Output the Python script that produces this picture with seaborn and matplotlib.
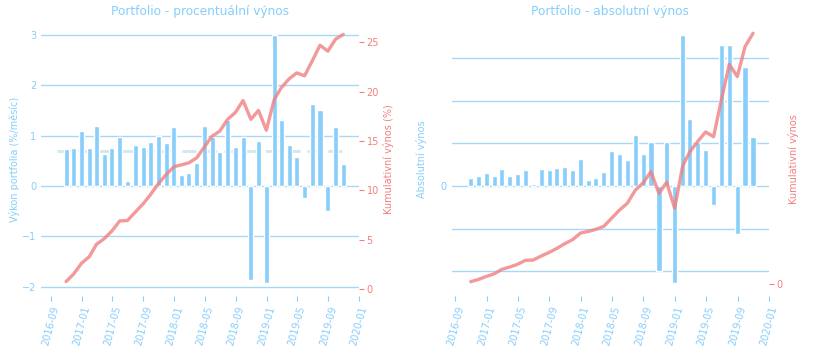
import numpy as np
import pandas as pd
import matplotlib
matplotlib.use("Agg")
import matplotlib.pyplot as plt
import matplotlib.dates as mdates
from matplotlib.ticker import MultipleLocator, FuncFormatter
import seaborn as sns

# ---------------- data ----------------
months = pd.date_range("2016-10-31", periods=37, freq="ME")

monthly_pct = [0.73, 0.75, 1.08, 0.75, 1.18, 0.63, 0.75, 0.97, 0.09, 0.81,
               0.77, 0.87, 0.99, 0.85, 1.16, 0.21, 0.25, 0.45, 1.18, 0.97,
               0.67, 1.30, 0.77, 0.97, -1.86, 0.90, -1.93, 3.00, 1.30, 0.81,
               0.57, -0.24, 1.62, 1.50, -0.50, 1.16, 0.43]

cumulative_pct = [0.78, 1.55, 2.63, 3.31, 4.55, 5.13, 5.90, 6.92, 6.95, 7.80,
                  8.64, 9.60, 10.70, 11.60, 12.40, 12.60, 12.80, 13.30, 14.40, 15.50,
                  16.00, 17.20, 17.90, 19.10, 17.20, 18.10, 16.10, 19.20, 20.40, 21.30,
                  21.90, 21.60, 23.10, 24.70, 24.10, 25.30, 25.80]

monthly_abs = [180, 230, 300, 230, 390, 230, 280, 370, 50, 390,
               370, 410, 440, 370, 630, 130, 180, 320, 810, 740,
               600, 1190, 740, 1020, -1990, 1020, -2270, 3530, 1560, 1020,
               840, -450, 3300, 3300, -1130, 2780, 1140]

cumulative_abs = [220, 430, 710, 960, 1360, 1580, 1830, 2200, 2230, 2600,
                  2940, 3310, 3750, 4120, 4740, 4890, 5080, 5360, 6100, 6870,
                  7490, 8700, 9410, 10430, 8420, 9440, 7030, 10960, 12290, 13250,
                  14120, 13680, 17090, 20400, 19260, 22040, 23280]

xtick_dates = pd.date_range("2016-09-01", "2020-01-01", freq="4MS")

df = pd.DataFrame({"date": months, "pct": monthly_pct, "cum_pct": cumulative_pct,
                   "abs": monthly_abs, "cum_abs": cumulative_abs})

# ---------------- style ----------------
sns.set_style("white")
plt.rcParams["font.family"] = ["DejaVu Sans"]

BLUE = "#87CEFA"
CORAL = "#F08080"
GRID = "#A6D8F7"
MEAN = "#D3E6EE"
FS_TICK = 7
FS_LABEL = 7
FS_TITLE = 8.7

fig = plt.figure(figsize=(8.17, 3.51), dpi=100)

H = 351.0
W = 817.0
top_px, bot_px = 22, 296


def make_axes(x0, x1):
    return fig.add_axes([x0 / W, (H - bot_px) / H, (x1 - x0) / W, (bot_px - top_px) / H])


def style_common(ax, ax2, title, ylab, ylab2):
    for a in (ax, ax2):
        for s in a.spines.values():
            s.set_visible(False)
    ax.set_title(title, color=BLUE, fontsize=FS_TITLE, pad=5)
    ax.set_ylabel(ylab, color=BLUE, fontsize=FS_LABEL)
    ax2.set_ylabel(ylab2, color=CORAL, fontsize=FS_LABEL)
    ax.yaxis.grid(True, color=GRID, linewidth=1)
    ax.xaxis.grid(False)
    ax2.grid(False)
    ax.set_axisbelow(True)
    ax.tick_params(axis="y", colors=BLUE, labelsize=FS_TICK, length=0, pad=3.5)
    ax.tick_params(axis="x", colors=BLUE, labelsize=FS_TICK, length=3.5, width=0.8,
                   bottom=True, pad=3)
    ax2.tick_params(axis="y", colors=CORAL, labelsize=FS_TICK, length=3.5, width=0.8,
                    right=True, pad=2)
    ax.set_xticks(xtick_dates)
    ax.xaxis.set_major_formatter(mdates.DateFormatter("%Y-%m"))
    for lbl in ax.get_xticklabels():
        lbl.set_rotation(75)
        lbl.set_ha("center")
        lbl.set_va("top")


# ---------------- left chart ----------------
axL = make_axes(41, 359)
axL.axhline(np.mean(monthly_pct), xmin=0.05, xmax=0.95, color=MEAN, linewidth=2,
            linestyle=(0, (5, 2.5)), zorder=1.5)
axL.bar(df["date"], df["pct"], width=20, color=BLUE, zorder=2)
axL.set_ylim(-2.18, 3.25)
axL.yaxis.set_major_locator(MultipleLocator(1))
axL2 = axL.twinx()
sns.lineplot(data=df, x="date", y="cum_pct", ax=axL2, color=CORAL, linewidth=2.4,
             alpha=0.8)
axL2.set_ylim(-0.68, 27.05)
axL2.yaxis.set_major_locator(MultipleLocator(5))
axL.set_xlim(pd.Timestamp("2016-07-24"), pd.Timestamp("2020-01-01"))
axL.set_xlabel("")
axL2.set_xlabel("")
style_common(axL, axL2, "Portfolio - procentuální výnos",
             "Výkon portfolia (%/měsíc)", "Kumulativní výnos (%)")
axL.yaxis.labelpad = 1.5
axL2.yaxis.labelpad = 3

# ---------------- right chart ----------------
axR = make_axes(451.7, 769)
axR.bar(df["date"], df["abs"], width=20, color=BLUE, zorder=2)
axR.set_ylim(-2580, 3840)
axR.yaxis.set_major_locator(MultipleLocator(1000))
axR.yaxis.set_major_formatter(FuncFormatter(lambda v, p: "0" if abs(v) < 1e-9 else ""))
axR2 = axR.twinx()
sns.lineplot(data=df, x="date", y="cum_abs", ax=axR2, color=CORAL, linewidth=2.4,
             alpha=0.8)
axR2.set_ylim(-1110, 24330)
axR2.set_yticks([0])
axR.set_xlim(pd.Timestamp("2016-08-18"), pd.Timestamp("2020-01-01"))
axR.set_xlabel("")
axR2.set_xlabel("")
style_common(axR, axR2, "Portfolio - absolutní výnos",
             "Absolutní výnos", "Kumulativní výnos")
axR.yaxis.labelpad = 10
axR2.yaxis.labelpad = 4

fig.savefig("out.png", dpi=100)
